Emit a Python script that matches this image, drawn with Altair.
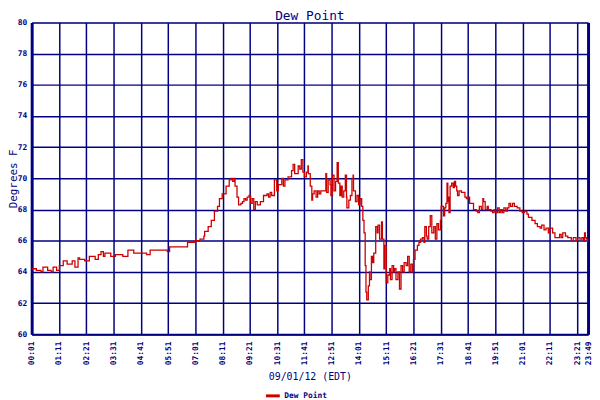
import altair as alt
import pandas as pd

MINUTES = [1, 13, 25, 30, 42, 51, 56, 65, 72, 82, 92, 105, 112, 120, 124, 137, 149, 164, 172, 179, 185, 189, 204, 216, 235, 248, 263, 296, 305,
           349, 355, 401, 420, 433, 443, 445, 454, 462, 470, 478, 483, 490, 500, 508, 513, 517, 521, 523, 528, 532, 538, 542, 546, 550, 554,
           559, 563, 567, 571, 575, 580, 588, 596, 605, 609, 613, 617, 624, 630, 634, 643, 647, 651, 659, 668, 672, 676, 685, 689, 693, 697,
           701, 706, 710, 711, 716, 720, 722, 726, 731, 735, 739, 743, 752, 756, 758, 762, 767, 769, 773, 777, 781, 785, 788, 792, 795, 798,
           802, 806, 809, 810, 815, 819, 823, 826, 827, 832, 836, 840, 844, 848, 851, 854, 857, 859, 861, 865, 868, 869, 873, 876, 879, 884,
           888, 890, 894, 899, 901, 905, 907, 911, 915, 920, 922, 926, 930, 932, 936, 941, 945, 949, 953, 957, 962, 966, 970, 974, 978, 981,
           985, 991, 995, 999, 1004, 1008, 1010, 1014, 1016, 1020, 1024, 1028, 1033, 1037, 1041, 1045, 1050, 1052,
           1054, 1058, 1061, 1064, 1067, 1069, 1071, 1072, 1075, 1079, 1083, 1086, 1089, 1092, 1094, 1098, 1104, 1113, 1117, 1121, 1125,
           1131, 1135, 1142, 1146, 1150, 1155, 1159, 1161, 1165, 1170, 1173, 1180, 1184, 1188, 1192, 1197, 1201, 1205, 1209, 1213, 1218,
           1222, 1226, 1230, 1235, 1240, 1247, 1254, 1260, 1266, 1272, 1276, 1285, 1293, 1299, 1306, 1310, 1316, 1321, 1327, 1331, 1338,
           1344, 1350, 1356, 1360, 1364, 1371, 1377, 1386, 1391, 1398, 1402, 1408, 1413, 1417, 1420, 1422, 1425, 1428]

DEWPOINT = [64.2, 64.1, 64.0, 64.3, 64.1, 64.0, 64.3, 64.1, 64.4, 64.7, 64.5, 64.7, 64.3, 64.9, 64.8, 64.7, 65.0, 64.8, 65.1, 65.3, 65.0, 65.2, 65.0, 65.1, 65.0, 65.4, 65.2, 65.1, 65.4,
            65.3, 65.6, 65.9, 66.0, 66.1, 66.3, 66.6, 66.9, 67.3, 67.9, 68.2, 68.7, 69.0, 69.5, 69.9, 70.0, 69.8, 70.0, 69.5, 68.8, 68.3, 68.4, 68.5, 68.7, 68.6, 68.8,
            68.9, 68.4, 68.7, 68.0, 68.5, 68.3, 68.5, 68.9, 69.0, 68.8, 69.1, 68.9, 69.9, 69.2, 69.6, 70.0, 69.5, 69.9, 70.1, 70.5, 70.9, 70.3, 70.8, 70.6, 71.2, 70.4,
            70.1, 70.4, 70.8, 70.3, 69.5, 68.6, 69.0, 69.2, 68.8, 69.2, 69.0, 69.2, 69.2, 70.3, 69.1, 69.9, 69.6, 68.9, 70.2, 69.2, 69.8, 71.0, 69.7, 68.9, 69.5, 68.8,
            69.2, 70.2, 68.8, 68.1, 68.6, 68.9, 70.0, 70.2, 69.2, 68.5, 68.9, 68.3, 68.7, 68.2, 67.3, 66.5, 64.4, 62.7, 62.2, 63.1, 64.0, 63.5, 65.0, 64.6, 65.2, 66.9,
            66.5, 67.0, 66.1, 67.2, 66.1, 64.2, 65.7, 63.3, 63.8, 64.2, 63.5, 64.4, 64.0, 64.2, 63.5, 64.0, 62.9, 64.4, 64.0, 64.6, 64.4, 65.0, 64.0, 64.5, 64.0, 64.8,
            65.4, 65.7, 65.9, 66.1, 66.2, 65.9, 66.9, 66.3, 66.1, 66.9, 67.6, 66.5, 66.9, 66.1, 67.1, 66.7, 67.3, 68.2,
            68.2, 67.6, 68.1, 68.4, 69.7, 68.5, 68.8, 67.8, 69.5, 69.7, 69.4, 69.8, 69.5, 69.2, 68.9, 69.2, 69.1, 68.8, 68.7, 68.8, 68.4,
            68.4, 68.0, 67.9, 67.8, 68.2, 68.0, 68.7, 68.5, 68.0, 68.2, 68.0, 67.9, 67.8, 68.0, 67.8, 68.1, 67.8, 68.0, 67.8, 68.1, 67.9,
            68.1, 68.4, 68.2, 68.4, 68.2, 68.1, 67.9, 67.8, 67.9, 67.7, 67.5, 67.3, 67.1, 66.9, 66.8, 67.0, 66.7, 66.8, 66.5, 66.8, 66.5,
            66.2, 66.2, 66.4, 66.2, 66.5, 66.3, 66.2, 66.0, 66.2, 66.0, 66.2, 66.1, 66.2, 66.0, 66.5, 66.2, 66.1, 65.9]

SERIES = "Dew Point"
X_TICKS = [1, 71, 141, 211, 281, 351, 421, 491, 561, 631, 701, 771, 841, 911, 981, 1051, 1121, 1191, 1261, 1331, 1401, 1429]
Y_TICKS = [60, 62, 64, 66, 68, 70, 72, 74, 76, 78, 80]

NAVY = "#000080"
RED = "#CC0000"
MONO = "DejaVu Sans Mono"

df = pd.DataFrame({"minute": MINUTES, "dew": DEWPOINT, "series": SERIES})

x_enc = alt.X(
    "minute:Q",
    scale=alt.Scale(domain=[1, 1429], nice=False, zero=False),
    axis=alt.Axis(
        values=X_TICKS,
        labelExpr="(floor(datum.value/60) < 10 ? '0' : '') + floor(datum.value/60) + ':' + (datum.value % 60 < 10 ? '0' : '') + (datum.value % 60)",
        labelAngle=270, labelFont=MONO, labelFontSize=8, labelFontWeight="bold",
        labelColor=NAVY, labelPadding=7, labelOverlap=False, labelBound=False, labelFlush=False,
        tickSize=0, domainColor=NAVY, domainWidth=2,
        grid=True, gridColor=NAVY, gridWidth=1.5, gridOpacity=1,
        title="09/01/12 (EDT)", titleFont=MONO, titleFontSize=10, titleFontWeight="normal",
        titleColor=NAVY, titleY=46, titleBaseline="alphabetic",
    ),
)

y_left = alt.Y(
    "dew:Q",
    scale=alt.Scale(domain=[60, 80], nice=False, zero=False),
    axis=alt.Axis(
        values=Y_TICKS, labelFont=MONO, labelFontSize=8, labelFontWeight="bold",
        labelColor=NAVY, labelPadding=5, tickSize=0,
        domainColor=NAVY, domainWidth=3,
        grid=True, gridColor=NAVY, gridWidth=1.5, gridOpacity=1,
        title="Degrees F", titleFont=MONO, titleFontSize=11, titleFontWeight="normal",
        titleColor=NAVY, titleAngle=270, titleX=-24, titleY=158,
        titleBaseline="top", titleAlign="center",
    ),
)

y_right = alt.Y(
    "dew:Q",
    scale=alt.Scale(domain=[60, 80], nice=False, zero=False),
    axis=alt.Axis(orient="right", labels=False, ticks=False, grid=False,
                  domainColor=NAVY, domainWidth=3, title=None),
)

line = alt.Chart(df).mark_line(interpolate="step-after", strokeWidth=1.3).encode(
    x=x_enc,
    y=y_left,
    color=alt.Color(
        "series:N",
        scale=alt.Scale(range=[RED]),
        legend=alt.Legend(
            title=None, orient="none", legendX=236, legendY=370,
            symbolType="stroke", symbolSize=196, symbolStrokeWidth=3,
            labelFont=MONO, labelFontSize=8, labelFontWeight="bold", labelColor=NAVY,
            labelOffset=3, padding=0,
        ),
    ),
)

border = alt.Chart(df).mark_line(strokeOpacity=0).encode(x=x_enc, y=y_right)

chart = (
    alt.layer(line, border)
    .resolve_scale(y="independent")
    .properties(
        width=564, height=316,
        autosize=alt.AutoSizeParams(type="none"),
        padding={"left": 24, "top": 12, "right": 4, "bottom": 64},
        title=alt.Title("Dew Point", font=MONO, fontSize=13, fontWeight="normal",
                        color=NAVY, offset=0, dy=4, anchor="middle", frame="group"),
    )
    .configure_view(stroke=NAVY, strokeWidth=2)
    .configure(background="white")
)

chart.save("out.html", embed_options={"renderer": "svg", "actions": False})
